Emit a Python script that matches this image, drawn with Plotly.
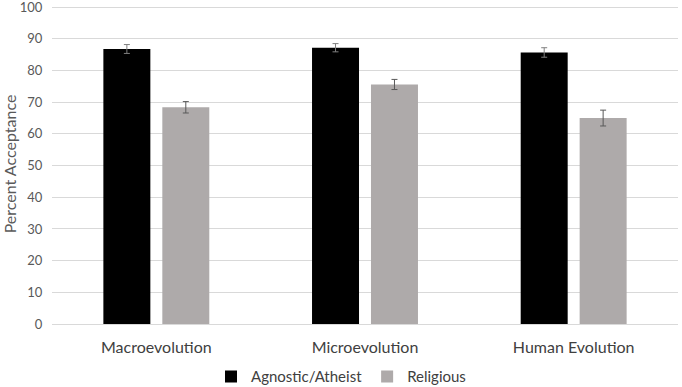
import plotly.graph_objects as go

categories = ["Macroevolution", "Microevolution", "Human Evolution"]
atheist = [86.8, 87.2, 85.7]
atheist_err = [1.4, 1.3, 1.5]
religious = [68.4, 75.6, 65.0]
religious_err = [1.8, 1.6, 2.5]
y_ticks = list(range(0, 101, 10))

fig = go.Figure()
fig.add_trace(go.Bar(
    x=categories, y=atheist, name="Agnostic/Atheist",
    marker=dict(color="#000000", line=dict(width=0)),
    error_y=dict(type="data", array=atheist_err, color="#7f7f7f", thickness=1, width=3),
))
fig.add_trace(go.Bar(
    x=categories, y=religious, name="Religious",
    marker=dict(color="#aeaaaa", line=dict(width=0)),
    error_y=dict(type="data", array=religious_err, color="#595959", thickness=1, width=3),
))

fig.update_layout(
    width=682, height=387,
    margin=dict(l=52, r=4, t=4, b=63, autoexpand=False),
    paper_bgcolor="white", plot_bgcolor="white",
    barmode="group", bargap=0.435, bargroupgap=0.203,
    font=dict(family="Lato, Liberation Sans, sans-serif", color="#595959"),
    xaxis=dict(
        tickfont=dict(size=16, color="#404040"),
        showgrid=False, showline=True, linecolor="#d9d9d9", ticks="outside",
        ticklen=9, tickcolor="rgba(0,0,0,0)", automargin=False,
    ),
    yaxis=dict(
        range=[0, 101], tickvals=y_ticks, ticktext=[str(v) for v in y_ticks],
        tickfont=dict(size=13, color="#595959"), ticklabeloverflow="allow",
        showgrid=True, gridcolor="#d9d9d9", gridwidth=1,
        zeroline=False, showline=False, ticks="outside", ticklen=6,
        tickcolor="rgba(0,0,0,0)", automargin=False,
        title=dict(text="Percent Acceptance", font=dict(size=16, color="#595959"), standoff=8),
    ),
    legend=dict(
        orientation="h", xref="container", x=0.5, xanchor="center",
        y=-0.113, yanchor="top",
        font=dict(size=15, color="#404040"),
        itemwidth=30, traceorder="normal",
    ),
)

fig.write_html("out.html")
